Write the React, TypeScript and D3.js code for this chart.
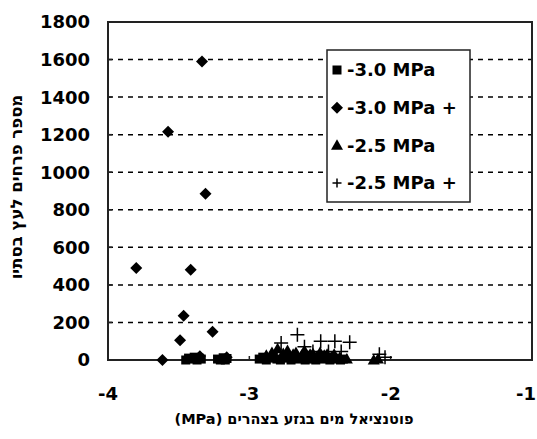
import React from 'react';
import * as d3 from 'd3';

const W = 537;
const H = 439;
const margin = { top: 22, right: 5, bottom: 79, left: 108 };

const xTicks = [-4, -3, -2, -1];
const yTicks = [0, 200, 400, 600, 800, 1000, 1200, 1400, 1600, 1800];
const seriesNames = ['-3.0 MPa', '-3.0 MPa +', '-2.5 MPa', '-2.5 MPa +'];
const xTitle = 'פוטנציאל מים בגזע בצהרים (MPa)';
const yTitle = 'מספר פרחים לעץ בסתיו';

// [water potential, flowers]
const squares30: [number, number][] = [
  [-3.45, 0], [-3.43, 10], [-3.41, 5], [-3.39, 15], [-3.37, 0], [-3.355, 10], [-3.34, 5],
  [-3.225, 5], [-3.205, 0], [-3.185, 12], [-3.17, 0], [-3.158, 8],
  [-2.93, 5], [-2.905, 15], [-2.88, 0], [-2.855, 10], [-2.83, 20], [-2.805, 5],
  [-2.78, 0], [-2.755, 15], [-2.73, 10], [-2.705, 0], [-2.68, 20], [-2.655, 5],
  [-2.63, 10], [-2.605, 0], [-2.58, 15], [-2.555, 5], [-2.53, 0], [-2.505, 10],
  [-2.48, 5], [-2.455, 15], [-2.43, 0], [-2.405, 10], [-2.38, 5], [-2.355, 0], [-2.335, 5]
];
const diamonds30p: [number, number][] = [
  [-3.8, 490], [-3.615, 0], [-3.575, 1215], [-3.49, 105], [-3.465, 235],
  [-3.415, 480], [-3.335, 1590], [-3.31, 885], [-3.26, 150], [-3.35, 20], [-3.16, 15]
];
const triangles25: [number, number][] = [
  [-2.88, 25], [-2.84, 40], [-2.8, 60], [-2.76, 35], [-2.73, 50], [-2.69, 30],
  [-2.67, 40], [-2.63, 25], [-2.61, 50], [-2.57, 30], [-2.55, 35], [-2.52, 20],
  [-2.5, 40], [-2.47, 25], [-2.45, 30], [-2.42, 15], [-2.4, 30], [-2.36, 15],
  [-2.31, 5], [-2.12, 0], [-2.09, 5]
];
const plus25p: [number, number][] = [
  [-2.775, 90], [-2.66, 135], [-2.61, 70], [-2.55, 45], [-2.495, 100], [-2.44, 45],
  [-2.395, 100], [-2.35, 45], [-2.29, 95], [-2.08, 30], [-2.04, 15]
];

const FONT = '"DejaVu Sans", Arial, sans-serif';

function Marker({ kind, x, y, plus = 7 }: { kind: number; x: number; y: number; plus?: number }) {
  if (kind === 0) return <rect x={x - 4.5} y={y - 4.5} width={9} height={9} fill="#000" />;
  if (kind === 1)
    return <path d={`M${x},${y - 6}L${x + 6},${y}L${x},${y + 6}L${x - 6},${y}Z`} fill="#000" />;
  if (kind === 2)
    return <path d={`M${x},${y - 6}L${x + 6},${y + 4.5}L${x - 6},${y + 4.5}Z`} fill="#000" />;
  return (
    <path
      d={`M${x - plus},${y}H${x + plus}M${x},${y - plus}V${y + plus}`}
      stroke="#000"
      strokeWidth={1.5}
      fill="none"
    />
  );
}

export default function App() {
  const x = d3.scaleLinear().domain([-4, -1]).range([margin.left, W - margin.right]);
  const y = d3.scaleLinear().domain([0, 1800]).range([H - margin.bottom, margin.top]);
  const series = [squares30, diamonds30p, triangles25, plus25p];
  const legY = d3.scalePoint<number>().domain([0, 1, 2, 3]).range([70, 183]);

  return (
    <svg width={W} height={H} style={{ position: 'absolute', left: 0, top: 0, background: '#fff' }}>
      {yTicks.slice(1, -1).map((t) => (
        <line key={t} x1={x(-4)} x2={x(-1)} y1={y(t)} y2={y(t)} stroke="#000" strokeWidth={1.5} strokeDasharray="5,5" />
      ))}
      {yTicks.map((t) => (
        <g key={'y' + t}>
          <line x1={x(-4)} x2={x(-4) + 4} y1={y(t)} y2={y(t)} stroke="#222" strokeWidth={1.5} />
          <text x={90} y={y(t)} dy="0.36em" textAnchor="end" fontFamily={FONT} fontWeight="bold" fontSize={18}>
            {t}
          </text>
        </g>
      ))}
      {xTicks.map((t, i) => (
        <g key={'x' + t}>
          <line x1={x(t)} x2={x(t)} y1={y(0)} y2={y(0) - 4} stroke="#222" strokeWidth={1.5} />
          <text
            x={i === xTicks.length - 1 ? W - 1 : x(t)}
            y={394}
            dy="0.36em"
            textAnchor={i === xTicks.length - 1 ? 'end' : 'middle'}
            fontFamily={FONT}
            fontWeight="bold"
            fontSize={18}
          >
            {d3.format('d')(t).replace('−', '-')}
          </text>
        </g>
      ))}
      <rect x={x(-4)} y={y(1800)} width={x(-1) - x(-4)} height={y(0) - y(1800)} fill="none" stroke="#222" strokeWidth={2} />
      {series.map((s, i) =>
        s.map((d, j) => <Marker key={i + '-' + j} kind={i} x={x(d[0])} y={y(d[1])} />)
      )}
      <rect x={327} y={50} width={143} height={152} fill="#fff" stroke="#222" strokeWidth={1.5} />
      {seriesNames.map((n, i) => (
        <g key={n}>
          <Marker kind={i} x={337} y={legY(i)!} plus={4.5} />
          <text x={347} y={legY(i)!} dy="0.36em" fontFamily={FONT} fontWeight="bold" fontSize={18}>
            {n}
          </text>
        </g>
      ))}
      <text x={294} y={419} dy="0.36em" textAnchor="middle" direction="rtl" fontFamily={FONT} fontWeight="bold" fontSize={14.5}>
        {xTitle}
      </text>
      <text
        transform={`translate(16,${(y(0) + y(1800)) / 2 - 4}) rotate(-90)`}
        dy="0.36em"
        textAnchor="middle"
        direction="rtl"
        fontFamily={FONT}
        fontWeight="bold"
        fontSize={16.5}
      >
        {yTitle}
      </text>
    </svg>
  );
}
